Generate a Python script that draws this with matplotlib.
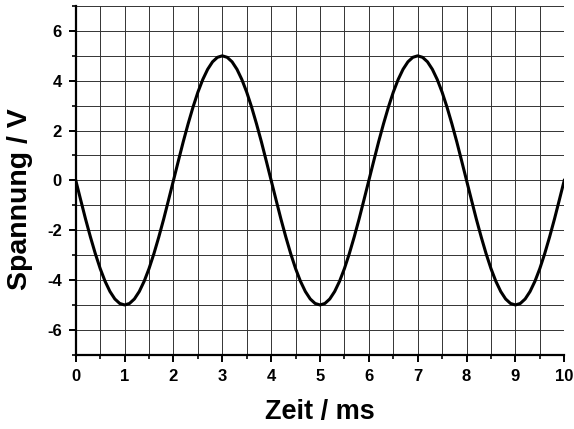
import numpy as np
import matplotlib
matplotlib.use("Agg")
import matplotlib.pyplot as plt
from matplotlib.ticker import MultipleLocator

# Zeit in ms, Schritt 0.1 ms
zeit = [i / 10 for i in range(101)]

# Spannung in V
spannung = [
    0.0, -0.78, -1.55, -2.27, -2.94, -3.54, -4.05, -4.46, -4.76, -4.94,
    -5.0, -4.94, -4.76, -4.46, -4.05, -3.54, -2.94, -2.27, -1.55, -0.78,
    0.0, 0.78, 1.55, 2.27, 2.94, 3.54, 4.05, 4.46, 4.76, 4.94,
    5.0, 4.94, 4.76, 4.46, 4.05, 3.54, 2.94, 2.27, 1.55, 0.78,
    0.0, -0.78, -1.55, -2.27, -2.94, -3.54, -4.05, -4.46, -4.76, -4.94,
    -5.0, -4.94, -4.76, -4.46, -4.05, -3.54, -2.94, -2.27, -1.55, -0.78,
    0.0, 0.78, 1.55, 2.27, 2.94, 3.54, 4.05, 4.46, 4.76, 4.94,
    5.0, 4.94, 4.76, 4.46, 4.05, 3.54, 2.94, 2.27, 1.55, 0.78,
    0.0, -0.78, -1.55, -2.27, -2.94, -3.54, -4.05, -4.46, -4.76, -4.94,
    -5.0, -4.94, -4.76, -4.46, -4.05, -3.54, -2.94, -2.27, -1.55, -0.78,
    0.0,
]

x_ticks = [0, 1, 2, 3, 4, 5, 6, 7, 8, 9, 10]
y_ticks = [-6, -4, -2, 0, 2, 4, 6]

plt.rcParams['font.family'] = ['Liberation Sans', 'DejaVu Sans']
plt.rcParams['font.weight'] = 'bold'
plt.rcParams['axes.unicode_minus'] = False

fig = plt.figure(figsize=(5.74, 4.29), dpi=100)
ax = fig.add_axes([0.132, 0.173, 0.851, 0.813])

ax.plot(zeit, spannung, color='black', lw=2.2, zorder=3)

ax.set_xlim(0, 10)
ax.set_ylim(-7, 7)
ax.set_xticks(x_ticks)
ax.set_yticks(y_ticks)
ax.xaxis.set_minor_locator(MultipleLocator(0.5))
ax.yaxis.set_minor_locator(MultipleLocator(1))

ax.grid(True, which='both', color='#333333', lw=0.7)
ax.set_axisbelow(True)

ax.spines['top'].set_visible(False)
ax.spines['right'].set_visible(False)
for s in ('left', 'bottom'):
    ax.spines[s].set_linewidth(1.6)

ax.tick_params(which='major', direction='out', length=5, width=1.4,
               labelsize=12, pad=5)
ax.tick_params(which='minor', direction='out', length=3, width=1.2)
for lab in ax.get_xticklabels() + ax.get_yticklabels():
    lab.set_fontweight('bold')

ax.set_xlabel('Zeit / ms', fontsize=19.5, fontweight='bold', labelpad=11)
ax.set_ylabel('Spannung / V', fontsize=20.5, fontweight='bold')
ax.yaxis.set_label_coords(-0.088, 0.445)

fig.savefig('out.png', dpi=100)
